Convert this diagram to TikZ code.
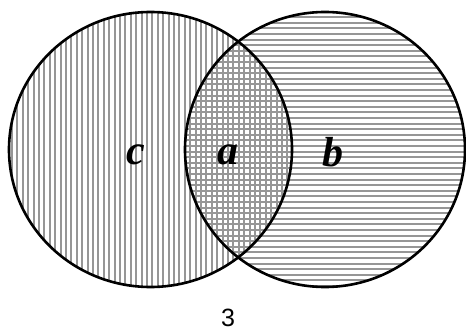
\documentclass[tikz,border=0pt]{standalone}
\usepackage{fontspec}
\setmainfont{Liberation Serif}
\newfontfamily\labsans{Liberation Sans}
\begin{document}
\begin{tikzpicture}[x=1pt,y=1pt,
  rim/.style={draw=black, line width=2.6pt},
  hatchline/.style={draw=hatchgray, line width=1.9pt},
  setlabel/.style={font=\fontsize{42}{42}\selectfont\bfseries\itshape, inner sep=0pt},
  caption/.style={font=\labsans\fontsize{25}{25}\selectfont, inner sep=0pt}]
\definecolor{hatchgray}{RGB}{150,150,150}
\fill[white] (0,0) rectangle (466,333);
\useasboundingbox (0,0) rectangle (466,333);
% left set: vertical hatching
\begin{scope}
  \clip (150.5,183.5) ellipse [x radius=141.5, y radius=137.5];
  \foreach \x in {12,17.4,...,295} \path[hatchline] (\x,40) -- (\x,330);
\end{scope}
% right set: horizontal hatching
\begin{scope}
  \clip (325,183.5) ellipse [x radius=140, y radius=137.5];
  \foreach \y in {47,52.6,...,325} \path[hatchline] (183,\y) -- (467,\y);
\end{scope}
\path[rim] (150.5,183.5) ellipse [x radius=141.5, y radius=137.5];
\path[rim] (325,183.5) ellipse [x radius=140, y radius=137.5];
\node[setlabel] (c) at (136,178) {c};
\node[setlabel] (a) at (228,178) {a};
\node[setlabel] (b) at (333,181) {b};
\node[caption] (n) at (228,15) {3};
\end{tikzpicture}
\end{document}
